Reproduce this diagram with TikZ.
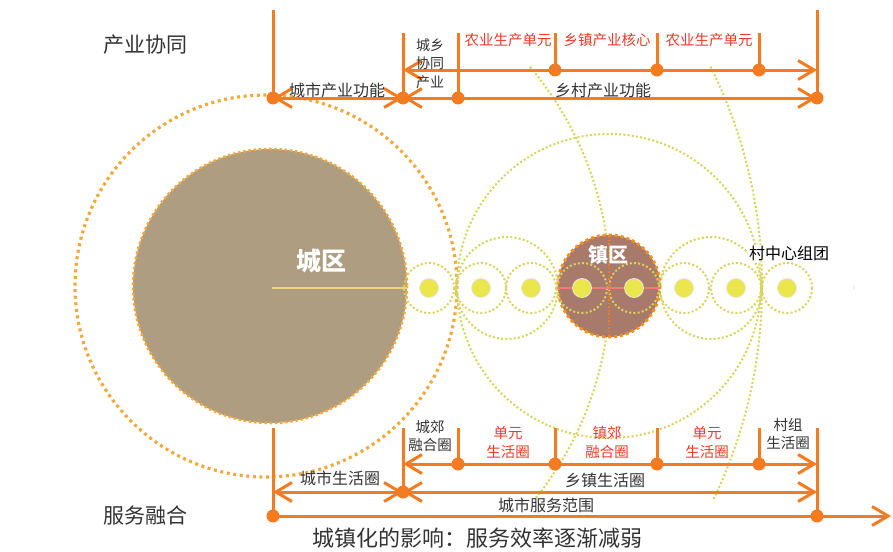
\documentclass[tikz,border=0pt]{standalone}
\usepackage{fontspec}
\setmainfont{Noto Sans CJK SC}
\usetikzlibrary{arrows.meta}
\definecolor{orL}{HTML}{F47B20}
\definecolor{oD}{HTML}{F2A93B}
\definecolor{yD}{HTML}{D8D35A}
\definecolor{cityF}{HTML}{AE9D80}
\definecolor{townF}{HTML}{A77A6C}
\definecolor{yFill}{HTML}{EBE64C}
\definecolor{redT}{HTML}{EA3A2C}
\definecolor{darkT}{HTML}{333333}
\definecolor{pinkL}{HTML}{F27A78}
\definecolor{cityL}{HTML}{F3D27E}
\begin{document}
\begin{tikzpicture}[x=1pt,y=-1pt,
  ol/.style={draw=orL,line width=3pt},
  arrowline/.style={ol,{Straight Barb[length=16pt,width=19pt]}-{Straight Barb[length=16pt,width=19pt]}},
  rarrow/.style={ol,-{Straight Barb[length=16pt,width=19pt]}},
  dotn/.style={circle,fill=orL,inner sep=0pt,minimum size=13pt},
  ydots/.style={draw=yD,line width=2pt,dash pattern=on 2pt off 2.2pt},
  odots/.style={draw=oD,line width=3.2pt,dash pattern=on 3pt off 3.6pt},
  rimdots/.style={draw=oD,line width=2.6pt,dash pattern=on 2.4pt off 2.8pt},
  lbl/.style={font=\fontsize{16}{18}\selectfont,text=darkT,inner sep=0pt},
  rlbl/.style={font=\fontsize{14.5}{19}\selectfont,text=redT,inner sep=0pt,align=center},
  slbl/.style={font=\fontsize{14.5}{18}\selectfont,text=darkT,inner sep=0pt,align=center},
  ttl/.style={font=\fontsize{21}{24}\selectfont,text=darkT,inner sep=0pt},
  ydot/.style={circle,fill=yFill,draw=white!80!gray,line width=0.8pt,inner sep=0pt,minimum size=19pt},
]
\path[use as bounding box] (0,0) rectangle (893,551);

% ---------- circles ----------
\draw[odots] (266,286) circle[radius=191];
\fill[cityF] (270,286) circle[radius=137];
\draw[rimdots] (270,286) circle[radius=137];

\begin{scope}
  \clip (420,66) rectangle (893,498);
  \draw[ydots] (270,286) circle[radius=340];
  \draw[ydots] (270,286) circle[radius=492];
\end{scope}
\draw[ydots] (609,286) circle[radius=152];
\draw[ydots] (507,288) circle[radius=51];
\draw[ydots] (711,288) circle[radius=51];

\fill[townF] (609,286) circle[radius=51];
\draw[rimdots,draw=orL!85!yellow,line width=3pt,dash pattern=on 3pt off 3pt] (609,286) circle[radius=51];

\foreach \cx in {429,481,531,582,634,684,736,787}
  \draw[ydots] (\cx,288) circle[radius=25];

\draw[cityL,line width=2.5pt] (272,288) -- (407,288);
\draw[pinkL,line width=2pt] (558,288) -- (660,288);
\draw[orL,line width=1.5pt,dash pattern=on 1.5pt off 2pt] (609,236) -- (609,337);

\foreach \cx/\nm in {429/y1,481/y2,531/y3,582/y4,634/y5,684/y6,736/y7,787/y8}
  \node[ydot] (\nm) at (\cx,288) {};

\node[font=\fontsize{25}{28}\selectfont\bfseries,text=white,inner sep=0pt] (city) at (321,261) {城区};
\node[font=\fontsize{20}{24}\selectfont\bfseries,text=white,inner sep=0pt] (town) at (608,255) {镇区};
\node[font=\fontsize{16}{18}\selectfont,text=black,fill=white,inner sep=1pt] (vil) at (789,253) {村中心组团};
\node[font=\fontsize{9}{10}\selectfont,text=gray!40,inner sep=0pt] (chev) at (854,288) {›};

% ---------- top coordinates ----------
\coordinate (tl0) at (273,10);
\coordinate (tl) at (273,98);
\coordinate (tx) at (403,98);
\coordinate (txt) at (403,33);
\coordinate (txa) at (403,70);
\coordinate (tb) at (458,98);
\coordinate (tbt) at (458,33);
\coordinate (tu1) at (555,70);
\coordinate (tu1t) at (555,33);
\coordinate (tu2) at (657,70);
\coordinate (tu2t) at (657,33);
\coordinate (tu3) at (759,70);
\coordinate (tu3t) at (759,33);
\coordinate (tr) at (817,98);
\coordinate (tra) at (817,70);
\coordinate (tr0) at (817,10);

\draw[ol] (tl0) -- (tl);
\draw[ol] (tr0) -- (tr);
\draw[ol] (txt) -- (tx);
\draw[ol] (tbt) -- (tb);
\draw[ol] (tu1t) -- (tu1);
\draw[ol] (tu2t) -- (tu2);
\draw[ol] (tu3t) -- (tu3);
\draw[arrowline] (tl) -- (tx);
\draw[arrowline] (tx) -- (tr);
\draw[arrowline] (txa) -- (tra);

\foreach \p in {tl,tx,tb,tu1,tu2,tu3,tr}
  \node[dotn] (d\p) at (\p) {};

% ---------- bottom coordinates ----------
\coordinate (bl0) at (273,428);
\coordinate (bl) at (273,516);
\coordinate (bm) at (273,492);
\coordinate (bx) at (403,492);
\coordinate (bxt) at (403,428);
\coordinate (bxa) at (403,464);
\coordinate (bb) at (458,464);
\coordinate (bbt) at (458,428);
\coordinate (bu1) at (555,464);
\coordinate (bu1t) at (555,428);
\coordinate (bu2) at (657,464);
\coordinate (bu2t) at (657,428);
\coordinate (bu3) at (759,464);
\coordinate (bu3t) at (759,428);
\coordinate (br0) at (817,428);
\coordinate (br) at (817,516);
\coordinate (brm) at (817,492);
\coordinate (bra) at (817,464);
\coordinate (bend) at (891,516);

\draw[ol] (bl0) -- (bl);
\draw[ol] (br0) -- (br);
\draw[ol] (bxt) -- (bx);
\draw[ol] (bbt) -- (bb);
\draw[ol] (bu1t) -- (bu1);
\draw[ol] (bu2t) -- (bu2);
\draw[ol] (bu3t) -- (bu3);
\draw[arrowline] (bm) -- (bx);
\draw[arrowline] (bx) -- (brm);
\draw[arrowline] (bxa) -- (bra);
\draw[rarrow] (bl) -- (bend);

\foreach \p in {bl,bx,bb,bu1,bu2,bu3,br}
  \node[dotn] (d\p) at (\p) {};

% ---------- labels ----------
\node[ttl] (h1) at (145,45) {产业协同};
\node[ttl] (h2) at (145,515) {服务融合};
\node[font=\fontsize{22}{24}\selectfont,text=darkT,inner sep=0pt] (h3) at (477,538) {城镇化的影响：服务效率逐渐减弱};

\node[lbl] (l1) at (337,90) {城市产业功能};
\node[lbl] (l2) at (603,90) {乡村产业功能};
\node[slbl,font=\fontsize{14}{18.5}\selectfont] (l3) at (430,63.5) {城乡\\协同\\产业};
\node[rlbl] (l4) at (508,40) {农业生产单元};
\node[rlbl] (l5) at (607,40) {乡镇产业核心};
\node[rlbl] (l6) at (709,40) {农业生产单元};

\node[lbl] (m1) at (340,478) {城市生活圈};
\node[lbl] (m2) at (605,480) {乡镇生活圈};
\node[lbl] (m3) at (546,505) {城市服务范围};
\node[slbl] (m4) at (430,436) {城郊\\融合圈};
\node[rlbl] (m5) at (508,442.5) {单元\\生活圈};
\node[rlbl] (m6) at (607,442.5) {镇郊\\融合圈};
\node[rlbl] (m7) at (707,442.5) {单元\\生活圈};
\node[slbl] (m8) at (788,434) {村组\\生活圈};
\end{tikzpicture}
\end{document}
